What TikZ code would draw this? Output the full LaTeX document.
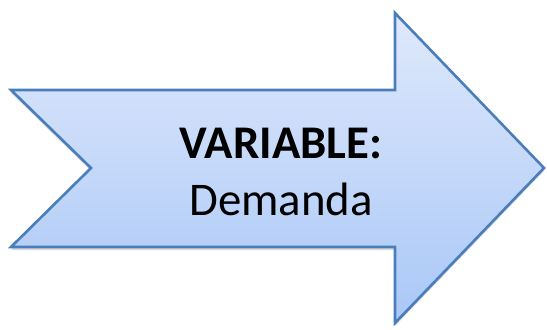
\documentclass[tikz,border=0pt]{standalone}
\usepackage{fontspec}
\setmainfont{Carlito}
\usetikzlibrary{shadows}
\definecolor{edgeblue}{HTML}{4A7EBB}
\definecolor{topfill}{HTML}{DFE9FB}
\definecolor{botfill}{HTML}{A9C7F7}
\tikzset{
  arrowshape/.style={draw=edgeblue, line width=2.6bp, line join=miter,
    top color=topfill, bottom color=botfill,
    drop shadow={opacity=0.25, shadow xshift=0bp, shadow yshift=-3bp, fill=black!60}},
  labeltext/.style={align=center, font=\fontsize{47}{58}\selectfont, inner sep=0pt}
}
\begin{document}
\begin{tikzpicture}[x=1bp, y=-1bp]
\useasboundingbox (0,0) rectangle (547,329);
\path[arrowshape] (11,90) -- (395,90) -- (395,13) -- (544,168) -- (395,323) -- (395,247) -- (11,247) -- (91,168) -- cycle;
\node[labeltext] (label) at (281,172) {\textbf{VARIABLE:}\\Demanda};
\end{tikzpicture}
\end{document}
